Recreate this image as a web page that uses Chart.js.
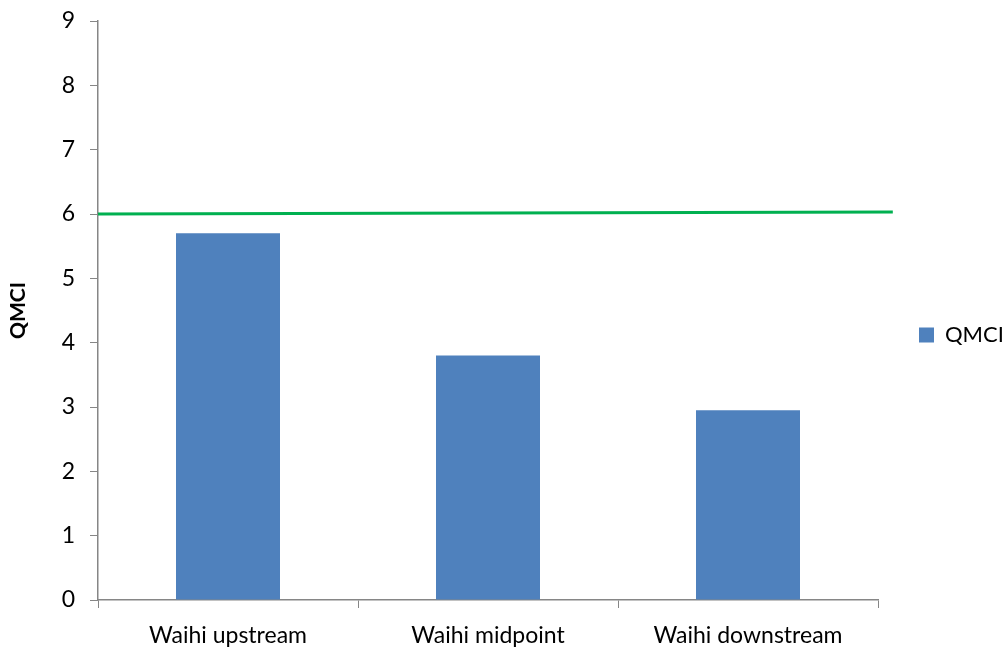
<!DOCTYPE html>
<html>
<head>
<meta charset="utf-8">
<script src="https://cdn.jsdelivr.net/npm/chart.js@4/dist/chart.umd.min.js"></script>
<style>
  html, body { margin: 0; padding: 0; background: #fff; }
  #wrap { width: 1005px; height: 649px; position: relative; }
</style>
</head>
<body>
<div id="wrap"><canvas id="c"></canvas></div>
<script>
const sites = ['Waihi upstream', 'Waihi midpoint', 'Waihi downstream'];
const qmci = [5.7, 3.8, 2.95];
const yTicks = [0, 1, 2, 3, 4, 5, 6, 7, 8, 9];
// reference line at QMCI 6 (drawn slightly sloped in the original, running past the plot)
const refLineX = [0, 1.019];
const refLineY = [6.0, 6.03];

const axisGrey = '#868686';
const font = 'Lato, "Open Sans", sans-serif';

// legend sits further right than chart.js would put it; give it a fixed width
const legendWidth = 127;
const legendFitPlugin = {
  id: 'legendFit',
  afterInit(chart) {
    const lg = chart.legend;
    const fit = lg.fit;
    lg.fit = function () { fit.call(this); this.width = legendWidth; };
  },
};

new Chart(document.getElementById('c').getContext('2d'), {
  type: 'bar',
  data: {
    labels: sites,
    datasets: [
      {
        label: 'QMCI',
        data: qmci,
        backgroundColor: '#4F81BD',
        categoryPercentage: 0.4,
        barPercentage: 1.0,
        grouped: false,
        order: 2,
      },
      {
        type: 'line',
        label: 'ref',
        data: refLineX.map((x, i) => ({ x, y: refLineY[i] })),
        xAxisID: 'x2',
        borderColor: '#00B050',
        borderWidth: 3,
        pointRadius: 0,
        clip: false,
        order: 1,
      },
    ],
  },
  options: {
    responsive: true,
    maintainAspectRatio: false,
    animation: false,
    layout: { autoPadding: false, padding: { left: 0, right: 0, top: 21, bottom: 0 } },
    plugins: {
      tooltip: { enabled: false },
      legend: {
        position: 'right',
        labels: {
          filter: (item) => item.text === 'QMCI',
          boxWidth: 15,
          boxHeight: 15,
          color: '#000',
          font: { family: font, size: 22 },
          padding: 41,
        },
      },
    },
    scales: {
      x: {
        afterFit: (axis) => { axis.height = 49; axis.paddingLeft = 0; axis.paddingRight = 0; },
        grid: { offset: true, drawOnChartArea: false, color: axisGrey, tickLength: 8 },
        border: { color: axisGrey, width: 1.5 },
        ticks: { color: '#000', font: { family: font, size: 23 }, padding: 14 },
      },
      x2: {
        type: 'linear',
        display: false,
        offset: false,
        min: 0,
        max: 1,
      },
      y: {
        min: 0,
        max: 9,
        afterFit: (axis) => { axis.width = 98; axis.paddingTop = 0; axis.paddingBottom = 0; },
        afterBuildTicks: (axis) => { axis.ticks = yTicks.map((v) => ({ value: v })); },
        grid: { drawOnChartArea: false, color: axisGrey, tickLength: 8 },
        border: { color: axisGrey, width: 1.5 },
        ticks: { color: '#000', font: { family: font, size: 23 }, padding: 15 },
        title: {
          display: true,
          text: 'QMCI',
          color: '#000',
          font: { family: font, size: 21, weight: 'bold' },
          padding: { top: 6, bottom: 0 },
        },
      },
    },
  },
  plugins: [legendFitPlugin],
});
</script>
</body>
</html>
